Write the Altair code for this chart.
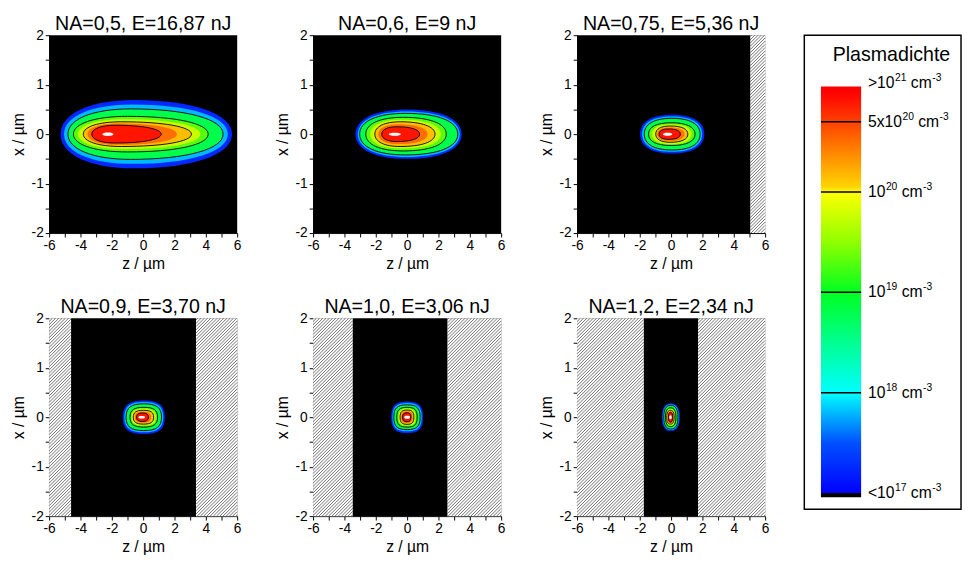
import altair as alt
import pandas as pd

FONT = "Liberation Sans"

# ---------------- data ----------------
na_labels = ["0,5", "0,6", "0,75", "0,9", "1,0", "1,2"]
e_labels = ["16,87", "9", "5,36", "3,70", "3,06", "2,34"]

# z-range (µm) of the computed (black) region per panel; outside it is hatched
black_lo = [-6.0, -6.0, -6.0, -4.6, -3.47, -1.74]
black_hi = [6.0, 6.0, 5.05, 3.37, 2.57, 1.72]

# contour levels: log10(density / cm^-3); the last one is the saturated core
levels = [17.0, 17.5, 18.0, 19.0, 19.5, 20.0, 20.35, 20.7, 21.3]
level_fill = [17.25, 17.8, 18.8, 19.3, 19.75, 20.15, 20.5, 20.9, 21.3]
line_levels = [18.0, 19.0, 20.0, 20.7]

# per panel: z-min, z-max, z of widest point and half-width in x (µm) of every contour
zlo_1 = [-5.27, -5.05, -4.80, -4.45, -4.15, -3.82, -3.55, -3.28, -2.60]
zhi_1 = [5.67, 5.40, 5.10, 4.15, 3.65, 3.08, 2.15, 1.15, -1.90]
zc_1 = [-0.6, -0.7, -0.8, -1.0, -1.2, -1.4, -1.6, -1.8, -2.25]
hw_1 = [0.69, 0.60, 0.51, 0.36, 0.30, 0.25, 0.215, 0.18, 0.035]

zlo_2 = [-3.30, -3.15, -3.03, -2.64, -2.35, -2.06, -1.84, -1.62, -1.17]
zhi_2 = [3.48, 3.36, 3.23, 2.50, 2.15, 1.78, 1.30, 0.80, -0.40]
zc_2 = [0.0, -0.05, -0.1, -0.25, -0.35, -0.45, -0.55, -0.65, -0.78]
hw_2 = [0.50, 0.46, 0.42, 0.34, 0.29, 0.25, 0.20, 0.15, 0.03]

zlo_3 = [-1.98, -1.85, -1.71, -1.44, -1.22, -0.98, -0.88, -0.77, -0.52]
zhi_3 = [2.12, 1.98, 1.85, 1.53, 1.30, 1.07, 0.85, 0.59, 0.07]
zc_3 = [0.05, 0.05, 0.05, 0.0, 0.0, -0.05, -0.1, -0.15, -0.22]
hw_3 = [0.39, 0.355, 0.32, 0.23, 0.20, 0.165, 0.135, 0.105, 0.03]

zlo_4 = [-1.30, -1.20, -1.09, -0.84, -0.74, -0.63, -0.53, -0.42, -0.30]
zhi_4 = [1.38, 1.28, 1.17, 0.92, 0.80, 0.67, 0.50, 0.33, 0.12]
zc_4 = [0.04, 0.04, 0.04, 0.04, 0.03, 0.02, 0.0, -0.04, -0.09]
hw_4 = [0.34, 0.305, 0.27, 0.20, 0.17, 0.14, 0.11, 0.085, 0.025]

zlo_5 = [-1.02, -0.94, -0.85, -0.66, -0.55, -0.45, -0.37, -0.29, -0.18]
zhi_5 = [1.02, 0.93, 0.83, 0.64, 0.54, 0.43, 0.34, 0.24, 0.18]
zc_5 = [0.0, 0.0, 0.0, 0.0, 0.0, 0.0, -0.01, -0.02, 0.0]
hw_5 = [0.32, 0.285, 0.25, 0.20, 0.17, 0.145, 0.115, 0.09, 0.03]

zlo_6 = [-0.59, -0.53, -0.47, -0.36, -0.32, -0.28, -0.22, -0.17, -0.12]
zhi_6 = [0.56, 0.50, 0.44, 0.31, 0.26, 0.20, 0.15, 0.10, 0.04]
zc_6 = [-0.02, -0.02, -0.02, -0.03, -0.03, -0.04, -0.04, -0.04, -0.04]
hw_6 = [0.28, 0.26, 0.24, 0.19, 0.165, 0.14, 0.12, 0.10, 0.04]

# colour map (log10 density -> colour)
cmap_domain = [16.96, 16.999, 17.0, 17.5, 18.0, 18.5, 19.0, 19.5, 20.0,
               20.05, 20.35, 20.7, 21.0, 21.05, 21.3]
cmap_range = ["#000000", "#000000", "#0000ff", "#0050ff", "#00ffff", "#00ff90",
              "#00ff20", "#90ff00", "#ffff00", "#ffd400", "#ff9000", "#ff4000",
              "#ff0000", "#ff0000", "#ffffff"]

legend_tick_values = [20.699, 20.0, 19.0, 18.0]
legend_label_values = [21.08, 20.699, 20.0, 19.0, 18.0, 17.0]
legend_label_base = [">10", "5x10", "10", "10", "10", "<10"]
legend_label_exp = ["21", "20", "20", "19", "18", "17"]
legend_unit = "cm"
legend_unit_exp = "-3"

x_ticks = [-6, -5, -4, -3, -2, -1, 0, 1, 2, 3, 4, 5, 6]
y_ticks = [-2, -1.5, -1, -0.5, 0, 0.5, 1, 1.5, 2]

# ---------------- layout / style constants ----------------
W, H = 192, 202
SX, SY = W / 12.0, H / 4.0
KAPPA = [0.6, 0.62, 0.64, 0.72, 0.74, 0.66]   # squareness of contour outlines
HATCH_STEP = 3.3
BAR_LO, BAR_HI = 16.96, 21.05

zlo_all = [zlo_1, zlo_2, zlo_3, zlo_4, zlo_5, zlo_6]
zhi_all = [zhi_1, zhi_2, zhi_3, zhi_4, zhi_5, zhi_6]
zc_all = [zc_1, zc_2, zc_3, zc_4, zc_5, zc_6]
hw_all = [hw_1, hw_2, hw_3, hw_4, hw_5, hw_6]

rows = []
for p in range(6):
    for k, lev in enumerate(levels):
        rows.append(dict(panel=p, k=k, level=lev, fill=level_fill[k],
                         zlo=zlo_all[p][k], zhi=zhi_all[p][k],
                         zc=zc_all[p][k], hw=hw_all[p][k]))
contours = pd.DataFrame(rows)

hrows = []
for p in range(6):
    if black_lo[p] > -6:
        hrows.append(dict(panel=p, zlo=-6.0, zhi=black_lo[p]))
    if black_hi[p] < 6:
        hrows.append(dict(panel=p, zlo=black_hi[p], zhi=6.0))
hatch = pd.DataFrame(hrows)

cscale = alt.Scale(domain=cmap_domain, range=cmap_range, interpolate="rgb")
xs = alt.Scale(domain=[-6, 6], nice=False, zero=False)
ys = alt.Scale(domain=[-2, 2], nice=False, zero=False)
xax = alt.Axis(title="z / µm", values=x_ticks,
               labelExpr="datum.value % 2 === 0 ? '' + datum.value : ''",
               labelFlush=False, labelOverlap=False, tickSize=4,
               labelPadding=2, titlePadding=3)
yax = alt.Axis(title="x / µm", values=y_ticks,
               labelExpr="datum.value % 1 === 0 ? '' + datum.value : ''",
               labelFlush=False, labelOverlap=False, tickSize=4,
               labelPadding=2, titlePadding=5)

TITLE_KW = dict(fontSize=20, font=FONT, fontWeight="normal", anchor="middle",
                offset=-6, color="black")


def n(e):
    return f"' + (round(({e})*100)/100) + '"


def path_expr(k):
    rl, rr, ry = "datum.rl", "datum.rr", "datum.ry"
    s = ("'M" + n(f"-{rl}") + ",0"
         + "C" + n(f"-{rl}") + "," + n(f"-{k}*{ry}") + " " + n(f"-{k}*{rl}") + "," + n(f"-{ry}") + " 0," + n(f"-{ry}")
         + "C" + n(f"{k}*{rr}") + "," + n(f"-{ry}") + " " + n(rr) + "," + n(f"-{k}*{ry}") + " " + n(rr) + ",0"
         + "C" + n(rr) + "," + n(f"{k}*{ry}") + " " + n(f"{k}*{rr}") + "," + n(ry) + " 0," + n(ry)
         + "C" + n(f"-{k}*{rl}") + "," + n(ry) + " " + n(f"-{rl}") + "," + n(f"{k}*{ry}") + " " + n(f"-{rl}") + ",0Z'")
    return s


def panel(p):
    title = f"NA={na_labels[p]}, E={e_labels[p]} nJ"
    cdf = contours[contours.panel == p]
    base = alt.Chart(cdf).transform_calculate(
        rl=f"(datum.zc - datum.zlo)*{SX}",
        rr=f"(datum.zhi - datum.zc)*{SX}",
        ry=f"datum.hw*{SY}",
        yc="0",
    ).transform_calculate(path=path_expr(KAPPA[p]))
    enc = dict(
        x=alt.X("zc:Q", scale=xs, axis=xax),
        y=alt.Y("yc:Q", scale=ys, axis=yax),
        shape=alt.Shape("path:N", scale=None, legend=None),
    )
    fills = base.mark_point(filled=True, size=4, opacity=1, strokeWidth=0).encode(
        color=alt.Color("fill:Q", scale=cscale, legend=None), **enc
    )
    lines = base.transform_filter(
        alt.FieldOneOfPredicate(field="level", oneOf=line_levels)
    ).mark_point(filled=False, size=4, opacity=1, color="black",
                 strokeWidth=0.9).encode(**enc)
    layers = []
    hdf = hatch[hatch.panel == p]
    if len(hdf):
        hbg = alt.Chart(hdf).mark_rect(fill="white").encode(
            x=alt.X("zlo:Q", scale=xs, axis=xax), x2="zhi:Q",
            y=alt.value(0), y2=alt.value(H))
        hl = alt.Chart(hdf).transform_calculate(
            c=f"sequence({-H}, {W + 4}, {HATCH_STEP})"
        ).transform_flatten(["c"]).transform_calculate(
            u0=f"(datum.zlo+6)*{SX}", u1=f"(datum.zhi+6)*{SX}"
        ).transform_calculate(
            us="max(datum.u0, datum.c)", ue=f"min(datum.u1, datum.c+{H})"
        ).transform_filter("datum.us < datum.ue").transform_calculate(
            za=f"-6+datum.us/{SX}", xa=f"-2+(datum.us-datum.c)/{SY}",
            zb=f"-6+datum.ue/{SX}", xb=f"-2+(datum.ue-datum.c)/{SY}"
        ).mark_rule(color="#404040", strokeWidth=0.75).encode(
            x=alt.X("za:Q", scale=xs, axis=xax), x2="zb:Q",
            y=alt.Y("xa:Q", scale=ys, axis=yax), y2="xb:Q")
        layers += [hbg, hl]
    layers += [fills, lines]
    return alt.layer(*layers).properties(
        width=W, height=H,
        title=alt.TitleParams(title, **TITLE_KW),
        view=alt.ViewBackground(fill="black", strokeWidth=0),
    )


row1 = alt.hconcat(panel(0), panel(1), panel(2), spacing=33.5)
row2 = alt.hconcat(panel(3), panel(4), panel(5), spacing=33.5)
grid = alt.vconcat(row1, row2, spacing=27)

# ---------------- colour legend ----------------
LW, LH = 160, 484
ly = alt.Scale(domain=[16.84, 21.56], nice=False, zero=False)
lx = alt.Scale(domain=[0, LW], nice=False, zero=False)

grad_stops = [
    alt.GradientStop(offset=max(0.0, min(1.0, (v - BAR_LO) / (BAR_HI - BAR_LO))), color=c)
    for v, c in zip(cmap_domain, cmap_range) if v <= BAR_HI
]
bar = alt.Chart(pd.DataFrame({"lo": [BAR_LO], "hi": [BAR_HI]})).mark_rect(
    fill=alt.LinearGradient(gradient="linear", stops=grad_stops, x1=0, x2=0, y1=1, y2=0)
).encode(
    x=alt.value(17), x2=alt.value(58),
    y=alt.Y("lo:Q", scale=ly, axis=None), y2="hi:Q",
)
ticks = alt.Chart(pd.DataFrame({"v": legend_tick_values})).mark_rule(
    color="black", strokeWidth=1.5
).encode(x=alt.value(17), x2=alt.value(58), y=alt.Y("v:Q", scale=ly, axis=None))

# label pieces (base text + superscripts), advanced with Arial/Liberation metrics
ADV = {"0": 556, "1": 556, "2": 556, "3": 556, "4": 556, "5": 556, "6": 556,
       "7": 556, "8": 556, "9": 556, ">": 584, "<": 584, "x": 500, " ": 278,
       "c": 500, "m": 833, "-": 333}
FS_BASE, FS_SUP = 16, 10.5


def tw(s, fs):
    return sum(ADV.get(ch, 556) for ch in s) * fs / 1000.0


prow = []
for v, b, e in zip(legend_label_values, legend_label_base, legend_label_exp):
    x0 = 65.0
    prow.append(dict(v=v, t=b, x=x0, sup=False))
    x0 += tw(b, FS_BASE) + 0.5
    prow.append(dict(v=v, t=e, x=x0, sup=True))
    x0 += tw(e, FS_SUP) + tw(" ", FS_BASE)
    prow.append(dict(v=v, t=legend_unit, x=x0, sup=False))
    x0 += tw(legend_unit, FS_BASE) + 0.5
    prow.append(dict(v=v, t=legend_unit_exp, x=x0, sup=True))
pieces = pd.DataFrame(prow)

lab_base = alt.Chart(pieces).transform_filter("!datum.sup").mark_text(
    align="left", baseline="middle", font=FONT, fontSize=FS_BASE, color="black"
).encode(x=alt.X("x:Q", scale=lx, axis=None),
         y=alt.Y("v:Q", scale=ly, axis=None), text="t:N")
lab_sup = alt.Chart(pieces).transform_filter("datum.sup").mark_text(
    align="left", baseline="middle", font=FONT, fontSize=FS_SUP, color="black", dy=-5
).encode(x=alt.X("x:Q", scale=lx, axis=None),
         y=alt.Y("v:Q", scale=ly, axis=None), text="t:N")
ltitle = alt.Chart(pd.DataFrame({"t": ["Plasmadichte"]})).mark_text(
    align="center", baseline="alphabetic", font=FONT, fontSize=20, color="black"
).encode(x=alt.value(89), y=alt.value(26), text="t:N")

legend = alt.layer(bar, ticks, lab_base, lab_sup, ltitle).properties(
    width=LW, height=LH,
    title=alt.TitleParams(" ", **TITLE_KW),
    view=alt.ViewBackground(fill="white", stroke="black", strokeWidth=1.5),
)

chart = alt.hconcat(grid, legend, spacing=35).properties(
    padding={"left": 2, "top": 1, "right": 0, "bottom": 0},
    background="white",
).configure_axis(
    labelFont=FONT, labelFontSize=14, labelColor="black",
    titleFont=FONT, titleFontSize=16, titleFontWeight="normal", titleColor="black",
    domainColor="black", tickColor="black", grid=False,
).configure_view(strokeWidth=0)

chart.save("out.html", embed_options={"renderer": "svg", "actions": False})
